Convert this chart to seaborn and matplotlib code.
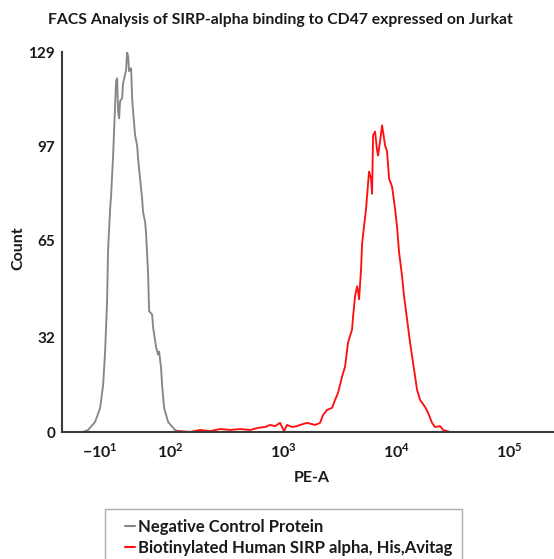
import numpy as np
import pandas as pd
import matplotlib
matplotlib.use("Agg")
import matplotlib.pyplot as plt
import seaborn as sns
from matplotlib.lines import Line2D
from matplotlib.legend_handler import HandlerLine2D
from matplotlib.ticker import FixedLocator, NullFormatter

# ---------------- data ----------------
title = "FACS Analysis of SIRP-alpha binding to CD47 expressed on Jurkat"
x_label = "PE-A"
y_label = "Count"
series_names = ["Negative Control Protein", "Biotinylated Human SIRP alpha, His,Avitag"]
series_colors = ["#878787", "#ff1010"]

neg_pe = [-37, -29, -18, -10, -5.3, -2.2, 0.9, 2.5, 5.7, 7.2,
          10.4, 13.5, 15.1, 16.7, 18.2, 19.8, 21.4, 24.5, 26.1, 30.8,
          32.4, 34.0, 35.5, 38.7, 40.3, 41.8, 45.0, 48.1, 49.7, 52.8,
          56.0, 57.5, 60.7, 62.3, 65.4, 67.0, 71.7, 73.3, 78.0, 81.1,
          82.7, 85.8, 87.4, 90.6, 96.9, 110.7, 122.6]
neg_count = [0, 0.7, 3.4, 8.2, 16.0, 27.3, 44.4, 62.1, 75.8, 80.2,
             93.9, 110.9, 119.1, 120.1, 108.9, 106.5, 112.3, 113.3, 118.4, 122.9,
             129, 127.6, 122.5, 123.5, 113.3, 108.9, 100.7, 97.3, 92.8, 86.0,
             79.2, 74.7, 71.3, 67.2, 53.6, 41.0, 39.9, 35.5, 28.7, 26.3,
             27.3, 21.8, 16.0, 8.2, 3.4, 0.7, 0]

sirp_pe = [104, 122.6, 150.3, 184.3, 225.9, 277, 339.6, 416.3, 510.4, 600.8,
           693, 767.4, 849.6, 940.2, 1020, 1085, 1201, 1330, 1414, 1631,
           1919, 2126, 2259, 2452, 2714, 2886, 3067, 3328, 3538, 3760,
           4079, 4164, 4338, 4518, 4611, 4706, 4901, 5003, 5212, 5427,
           5652, 5769, 6009, 6133, 6260, 6520, 6790, 6929, 7219, 7517,
           7830, 7991, 8324, 8672, 9218, 9799, 10205, 10629, 11300, 11770,
           12515, 13301, 14140, 15342, 16310, 18060, 19200, 20830, 22130, 24510,
           26060, 30060, 36850]
sirp_count = [0, 0.3, 0, 0.7, 0.3, 1.0, 0.7, 1.0, 0.7, 1.4,
              1.7, 2.4, 2.0, 3.1, 0.3, 2.4, 1.7, 2.0, 2.4, 3.1,
              2.4, 3.1, 5.8, 7.5, 8.2, 10.9, 13.3, 18.8, 22.2, 30.4,
              34.8, 39.2, 46.1, 49.5, 47.8, 45.1, 55.3, 63.8, 70.0, 75.8,
              84.3, 88.4, 86.0, 80.9, 100.7, 102.0, 95.6, 93.9, 98.6, 104.1,
              99.7, 97.3, 95.2, 86.0, 83.3, 75.8, 69.6, 61.1, 52.9, 46.1,
              38.2, 30.4, 23.5, 14.3, 10.9, 8.5, 6.5, 3.1, 1.7, 2.0,
              0.7, 0, 0]

x_tick_values = [-10, 100, 1000, 10000, 100000]
x_tick_labels = [r"$\mathbf{-10}^{\mathbf{1}}$", r"$\mathbf{10}^{\mathbf{2}}$",
                 r"$\mathbf{10}^{\mathbf{3}}$", r"$\mathbf{10}^{\mathbf{4}}$",
                 r"$\mathbf{10}^{\mathbf{5}}$"]
y_tick_values = [0, 32, 65, 97, 129]
y_tick_labels = ["0", "32", "65", "97", "129"]

# ---------------- style ----------------
sns.set_style("white")
plt.rcParams["font.family"] = ["Lato", "DejaVu Sans"]
plt.rcParams["mathtext.fontset"] = "custom"
plt.rcParams["mathtext.rm"] = "Lato"
plt.rcParams["mathtext.bf"] = "Lato:bold"

W, H = 554, 559
fig = plt.figure(figsize=(W / 100, H / 100), dpi=100)
fig.patch.set_facecolor("white")
ax = fig.add_axes([62 / W, 1 - 432 / H, (554 - 62) / W, (432 - 52) / H])

df = pd.concat([
    pd.DataFrame({"pe": neg_pe, "count": neg_count, "series": series_names[0]}),
    pd.DataFrame({"pe": sirp_pe, "count": sirp_count, "series": series_names[1]}),
], ignore_index=True)

sns.lineplot(data=df, x="pe", y="count", hue="series", hue_order=series_names,
             palette=series_colors, estimator=None, sort=False, linewidth=1.35,
             ax=ax, legend=False)

ax.set_xscale("symlog", linthresh=100, linscale=0.5065)
ax.set_xlim(-70, 250000)
ax.set_ylim(0, 129)

# spines
for s in ["top", "right"]:
    ax.spines[s].set_visible(False)
for s in ["left", "bottom"]:
    ax.spines[s].set_color("#3a3a3a")
    ax.spines[s].set_linewidth(1.5)

# ticks
ax.set_xticks(x_tick_values)
ax.set_xticklabels(x_tick_labels)
minor_x = [-90, -80, -70, -60, -50, -40, -30, -20, 20, 30, 40, 50, 60, 70, 80, 90]
for dec in [100, 1000, 10000, 100000]:
    minor_x += [m * dec for m in range(2, 10) if m * dec <= 250000]
ax.xaxis.set_minor_locator(FixedLocator(minor_x))
ax.xaxis.set_minor_formatter(NullFormatter())

ax.set_yticks(y_tick_values)
ax.set_yticklabels(y_tick_labels)
ax.yaxis.set_minor_locator(FixedLocator([129 * k / 16 for k in range(1, 16) if k % 4]))

ax.tick_params(axis="both", which="major", direction="out", length=4, width=1,
               color="#3a3a3a", labelcolor="#1a1a1a")
ax.tick_params(axis="x", which="major", labelsize=11.5, pad=3)
ax.tick_params(axis="y", which="major", labelsize=11, pad=1)
ax.tick_params(axis="both", which="minor", direction="out", length=2.5, width=0.8,
               color="#3a3a3a")
for lab in ax.get_xticklabels() + ax.get_yticklabels():
    lab.set_fontweight("bold")

ax.set_xlabel("")
ax.set_ylabel("")
fig.text(280 / W, 1 - 20 / H, title, ha="center", va="center", fontsize=11.3,
         fontweight="bold", color="#1a1a1a")
fig.text(18 / W, 1 - 248 / H, y_label, ha="center", va="center", rotation=90,
         fontsize=11.5, fontweight="bold", color="#1a1a1a")
fig.text(312 / W, 1 - 478 / H, x_label, ha="center", va="center", fontsize=11.5,
         fontweight="bold", color="#1a1a1a")


class OffsetLineHandler(HandlerLine2D):
    def __init__(self, frac=0.55, **kw):
        super().__init__(**kw)
        self.frac = frac

    def get_xdata(self, legend, xdescent, ydescent, width, height, fontsize):
        x0 = -xdescent + self.frac * width
        x1 = -xdescent + width
        return np.array([x0, x1]), np.array([x0, x1])


handles = [Line2D([0], [0], color=c, lw=1.5) for c in series_colors]
leg = fig.legend(handles, series_names, loc="upper left",
                 bbox_to_anchor=(105 / W, 1 - 509 / H), bbox_transform=fig.transFigure,
                 borderaxespad=0, frameon=True, fancybox=False, borderpad=0.6,
                 handlelength=1.2, handletextpad=0.15, labelspacing=0.3,
                 prop={"weight": "bold", "size": 12},
                 handler_map={Line2D: OffsetLineHandler(frac=0.5)})
leg.get_frame().set_edgecolor("#9a9a9a")
leg.get_frame().set_linewidth(1.0)
for t in leg.get_texts():
    t.set_color("#1a1a1a")

fig.savefig("out.png", dpi=100)
